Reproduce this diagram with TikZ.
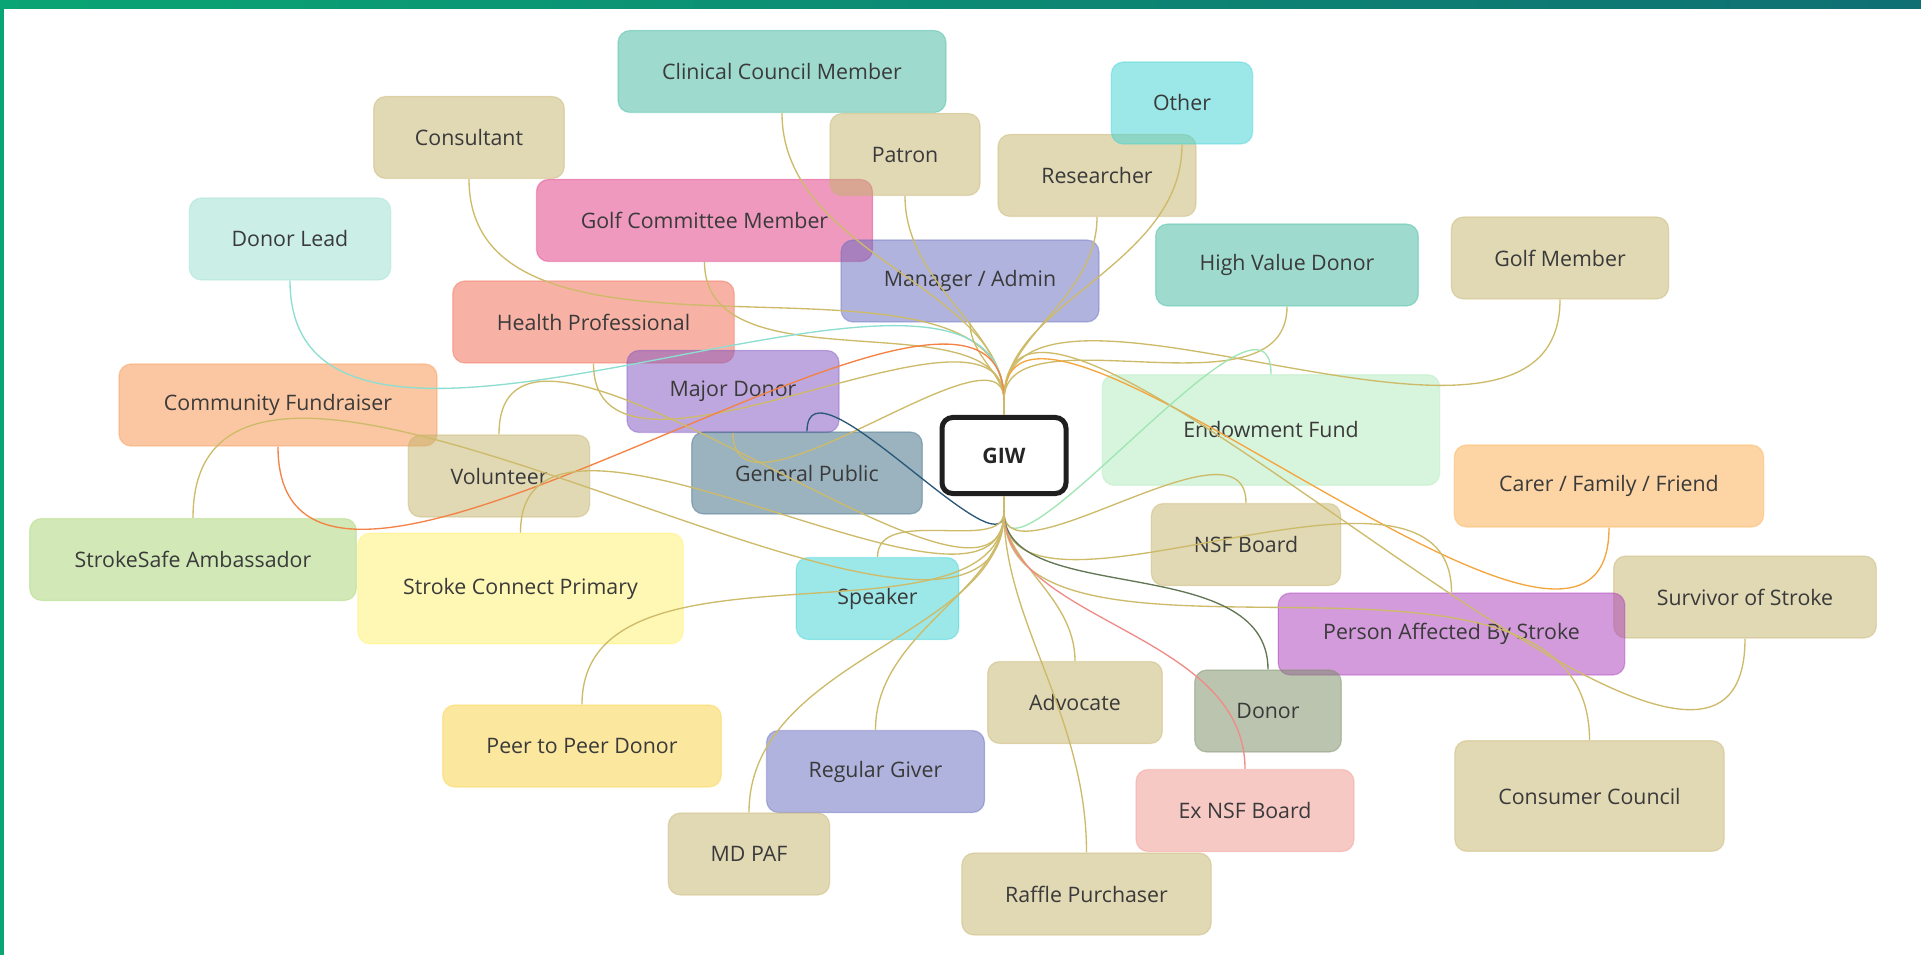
\documentclass[tikz,border=0pt]{standalone}
\usepackage{fontspec}
\setmainfont{Open Sans}
\definecolor{txt}{RGB}{58,58,58}
\definecolor{ln}{RGB}{205,187,105}
\definecolor{topL}{RGB}{10,165,116}
\definecolor{topR}{RGB}{15,111,115}
\definecolor{kTan}{RGB}{197,179,107}
\definecolor{kTeal}{RGB}{63,185,159}
\definecolor{kCyan}{RGB}{59,211,213}
\definecolor{kPink}{RGB}{225,53,129}
\definecolor{kLtl}{RGB}{153,223,209}
\definecolor{kLav}{RGB}{99,105,189}
\definecolor{kSal}{RGB}{241,103,77}
\definecolor{kPur}{RGB}{127,81,191}
\definecolor{kPea}{RGB}{249,145,71}
\definecolor{kGrn}{RGB}{177,235,189}
\definecolor{kSlt}{RGB}{57,103,129}
\definecolor{kOrg}{RGB}{253,173,77}
\definecolor{kSgr}{RGB}{167,213,113}
\definecolor{kYel}{RGB}{255,241,107}
\definecolor{kOrc}{RGB}{169,57,187}
\definecolor{kSag}{RGB}{119,139,97}
\definecolor{kYl2}{RGB}{251,209,65}
\definecolor{kLpk}{RGB}{241,149,141}
\definecolor{lnTeal}{RGB}{140,222,208}
\definecolor{lnOrA}{RGB}{243,130,68}
\definecolor{lnOrB}{RGB}{245,165,62}
\definecolor{lnBlue}{RGB}{42,88,120}
\definecolor{lnGrn}{RGB}{160,230,180}
\definecolor{lnDk}{RGB}{98,118,84}
\definecolor{lnRed}{RGB}{240,140,136}
\begin{document}
\begin{tikzpicture}[x=0.75pt,y=0.75pt]
\tikzset{
  bx/.style={rounded corners=9pt, line width=0.9pt, minimum height=61.5pt,
    inner sep=0pt, fill opacity=0.5, draw opacity=0.4, text opacity=1,
    text=txt, font=\fontsize{16}{19}\selectfont},
  tall/.style={minimum height=83pt},
  cn/.style={line width=1pt, draw=ln},
  up/.style={out=-90, in=90, out looseness=1, in looseness=0.8},
  dn/.style={out=90, in=-90, out looseness=1, in looseness=0.8},
  ctan/.style={fill=kTan, draw=kTan}, cteal/.style={fill=kTeal, draw=kTeal},
  ccyan/.style={fill=kCyan, draw=kCyan}, cpink/.style={fill=kPink, draw=kPink},
  cltl/.style={fill=kLtl, draw=kLtl}, clav/.style={fill=kLav, draw=kLav},
  csal/.style={fill=kSal, draw=kSal}, cpur/.style={fill=kPur, draw=kPur},
  cpea/.style={fill=kPea, draw=kPea}, cgrn/.style={fill=kGrn, draw=kGrn},
  cslt/.style={fill=kSlt, draw=kSlt}, corg/.style={fill=kOrg, draw=kOrg},
  csgr/.style={fill=kSgr, draw=kSgr}, cyel/.style={fill=kYel, draw=kYel},
  corc/.style={fill=kOrc, draw=kOrc}, csag/.style={fill=kSag, draw=kSag},
  cyl2/.style={fill=kYl2, draw=kYl2}, clpk/.style={fill=kLpk, draw=kLpk},
}
\useasboundingbox (0,0) rectangle (1921,-955);
\fill[white] (0,0) rectangle (1921,-955);
\shade[left color=topL, right color=topR] (0,0) rectangle (1921,-9);
\fill[topL] (0,0) rectangle (4,-955);

% nodes
\node[bx,cteal,minimum width=246pt] (clin) at (782,-71.5) {Clinical Council Member};
\node[bx,ctan,minimum width=143pt] (cons) at (469,-137.5) {Consultant};
\node[bx,cpink,minimum width=252pt] (golfc) at (704.5,-220.5) {Golf Committee Member};
\node[bx,ctan,minimum width=112.5pt] (patr) at (905,-154.5) {Patron};
\node[bx,ctan,minimum width=148.5pt] (rsch) at (1097,-175.5) {Researcher};
\node[bx,ccyan,minimum width=106pt] (othr) at (1182,-103) {Other};
\node[bx,cltl,minimum width=151pt] (dlead) at (290,-239) {Donor Lead};
\node[bx,clav,minimum width=193.5pt] (mgr) at (970,-281) {Manager / Admin};
\node[bx,cteal,minimum width=197pt] (hvd) at (1287,-265) {High Value Donor};
\node[bx,ctan,minimum width=163pt] (golfm) at (1560,-258) {Golf Member};
\node[bx,csal,minimum width=211pt] (hprof) at (593.5,-322) {Health Professional};
\node[bx,cpur,minimum width=159pt] (major) at (733,-391.5) {Major Donor};
\node[bx,cpea,minimum width=238.5pt] (comm) at (278,-405) {Community Fundraiser};
\node[bx,cgrn,tall,minimum width=253pt] (endow) at (1271,-430) {Endowment Fund};
\node[bx,cslt,minimum width=173pt] (genp) at (807,-473) {General Public};
\node[bx,ctan,minimum width=136pt] (volu) at (499,-476) {Volunteer};
\node[bx,corg,minimum width=232pt] (carer) at (1609,-486) {Carer / Family / Friend};
\node[bx,csgr,minimum width=245pt] (sams) at (193,-559.5) {StrokeSafe Ambassador};
\node[bx,ctan,minimum width=142pt] (nsf) at (1246,-544.5) {NSF Board};
\node[bx,cyel,tall,minimum width=244pt] (scp) at (520.5,-588.5) {Stroke Connect Primary};
\node[bx,ccyan,minimum width=122pt] (spkr) at (877.5,-598.5) {Speaker};
\node[bx,ctan,minimum width=197pt] (surv) at (1745,-597) {Survivor of Stroke};
\node[bx,corc,minimum width=260pt] (pabs) at (1451.5,-634) {Person Affected By Stroke};
\node[bx,ctan,minimum width=131pt] (advo) at (1075,-702.5) {Advocate};
\node[bx,csag,minimum width=110pt] (donr) at (1268,-711) {Donor};
\node[bx,cyl2,minimum width=209pt] (peer) at (582,-746) {Peer to Peer Donor};
\node[bx,clav,minimum width=163.5pt] (regg) at (875.5,-771.5) {Regular Giver};
\node[bx,ctan,tall,minimum width=202pt] (ccnl) at (1589.5,-796) {Consumer Council};
\node[bx,clpk,minimum width=163.5pt] (exnsf) at (1245,-810.5) {Ex NSF Board};
\node[bx,ctan,minimum width=121pt] (mdpaf) at (749,-854) {MD PAF};
\node[bx,ctan,minimum width=187pt] (raff) at (1086.5,-894) {Raffle Purchaser};

% centre
\node[draw=black!88, line width=3.75pt, rounded corners=8pt, fill=white,
  minimum width=93pt, minimum height=57pt, inner sep=0pt, text=black!85,
  font=\fontsize{16}{19}\selectfont\bfseries] (giw) at (1004,-455.5) {GIW};
\coordinate (gT) at (1004,-400);
\coordinate (gB) at (1004,-512);
\draw[cn] (giw.north) -- (gT);
\draw[cn] (giw.south) -- (gB);

% connectors to the top port
\foreach \n/\c in {clin/ln, cons/ln, patr/ln, othr/ln, rsch/ln, golfc/ln,
  dlead/lnTeal, mgr/ln, hvd/ln, golfm/ln, hprof/ln, major/ln, comm/lnOrA,
  carer/lnOrB, surv/ln}
  \draw[cn, draw=\c] (\n.south) to[up] (gT);

% connectors to the bottom port
\foreach \n/\c in {genp/lnBlue, endow/lnGrn, volu/ln, sams/ln, nsf/ln, scp/ln,
  spkr/ln, pabs/ln, ccnl/ln, advo/ln, donr/lnDk, exnsf/lnRed, peer/ln,
  regg/ln, mdpaf/ln, raff/ln}
  \draw[cn, draw=\c] (\n.north) to[dn] (gB);
\end{tikzpicture}
\end{document}
